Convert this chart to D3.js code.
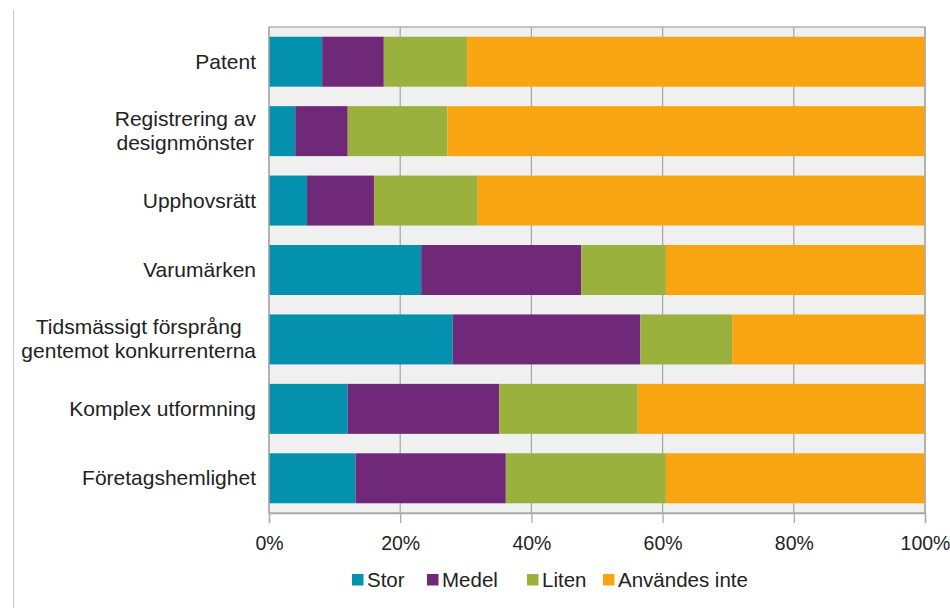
<!DOCTYPE html>
<html><head><meta charset="utf-8">
<script src="https://cdn.jsdelivr.net/npm/d3@7"></script>
<style>body{margin:0;background:#fff}svg{display:block;font-family:"Liberation Sans",Arial,sans-serif}</style>
</head><body>
<svg id="c" width="950" height="608"></svg>
<script>
const categories = [
  ["Patent"],
  ["Registrering av","designmönster"],
  ["Upphovsrätt"],
  ["Varumärken"],
  ["Tidsmässigt försprång","gentemot konkurrenterna"],
  ["Komplex utformning"],
  ["Företagshemlighet"]
];
const seriesNames = ["Stor","Medel","Liten","Användes inte"];
const stor   = [8.1, 4.0, 5.8, 23.2, 28.0, 12.0, 13.2];
const medel  = [9.4, 8.0, 10.2, 24.4, 28.6, 23.1, 22.9];
const liten  = [12.7, 15.2, 15.8, 12.9, 14.0, 21.1, 24.4];
const anvandesInte = [69.8, 72.8, 68.2, 39.5, 29.4, 43.8, 39.5];
const tickValues = [0, 20, 40, 60, 80, 100];
const colors = ["#0391ad","#702878","#9bb13d","#f9a512"];

const svg = d3.select("#c");
const L = 269, R = 925, T = 27, B = 513;
const x = d3.scaleLinear().domain([0,100]).range([L,R]);
const y = d3.scaleBand().domain(d3.range(categories.length)).range([T,B]).paddingInner(0.28).paddingOuter(0.14);

// outer left line
svg.append("line").attr("x1",13.5).attr("x2",13.5).attr("y1",10).attr("y2",608).attr("stroke","#c8c8c8").attr("stroke-width",1);

// plot background
svg.append("rect").attr("x",L).attr("y",T).attr("width",R-L).attr("height",B-T).attr("fill","#f0f0f0");

// gridlines
svg.append("g").selectAll("line").data(tickValues).join("line")
  .attr("x1",d=>x(d)).attr("x2",d=>x(d)).attr("y1",T).attr("y2",B)
  .attr("stroke","#a9a9a9").attr("stroke-width",1.3);

// bars
const rows = categories.map((c,i)=>({i, vals:[stor[i],medel[i],liten[i],anvandesInte[i]]}));
const data = [];
rows.forEach(r=>{
  const tot = d3.sum(r.vals); let acc=0;
  r.vals.forEach((v,k)=>{ const v0=acc/tot*100; acc+=v; data.push({i:r.i,k,x0:v0,x1:acc/tot*100}); });
});
svg.append("g").selectAll("rect").data(data).join("rect")
  .attr("x",d=>x(d.x0)).attr("width",d=>x(d.x1)-x(d.x0))
  .attr("y",d=>y(d.i)).attr("height",y.bandwidth())
  .attr("fill",d=>colors[d.k]);

// border
svg.append("rect").attr("x",L).attr("y",T).attr("width",R-L).attr("height",B-T)
  .attr("fill","none").attr("stroke","#a9a9a9").attr("stroke-width",1.3);

// x axis
const ax = svg.append("g").attr("transform",`translate(0,${B})`)
  .call(d3.axisBottom(x).tickValues(tickValues).tickFormat(d=>d+"%").tickSize(10).tickPadding(13));
ax.select(".domain").attr("stroke","#a9a9a9").attr("stroke-width",1.3);
ax.selectAll(".tick line").attr("stroke","#a9a9a9").attr("stroke-width",1.3);
ax.selectAll("text").attr("font-size",19.5).attr("fill","#222").attr("font-family","Liberation Sans, Arial, sans-serif");

// category labels (multi-line labels centred within their block, block right-aligned)
const labelRight = 256;
const lab = svg.append("g").selectAll("text").data(categories).join("text")
  .attr("font-size",21).attr("fill","#222")
  .attr("transform",(d,i)=>`translate(0,${y(i)+y.bandwidth()/2})`);
lab.each(function(lines){
  const t = d3.select(this);
  const n = lines.length, lh = 24;
  const spans = lines.map((s,j)=>t.append("tspan").attr("y",(j-(n-1)/2)*lh + 7).text(s));
  const widths = spans.map(sp=>sp.node().getComputedTextLength());
  const maxW = d3.max(widths);
  const cx = labelRight - maxW/2;
  spans.forEach(sp=>sp.attr("x",cx).attr("text-anchor","middle"));
});

// legend
const legX = [352, 427, 527, 603];
const lg = svg.append("g").selectAll("g").data(seriesNames).join("g")
  .attr("transform",(d,i)=>`translate(${legX[i]},574)`);
lg.append("rect").attr("width",11.5).attr("height",11.5).attr("fill",(d,i)=>colors[i]);
lg.append("text").attr("x",15).attr("y",12.5).attr("font-size",20.5).attr("fill","#222").text(d=>d);
</script>
</body></html>
